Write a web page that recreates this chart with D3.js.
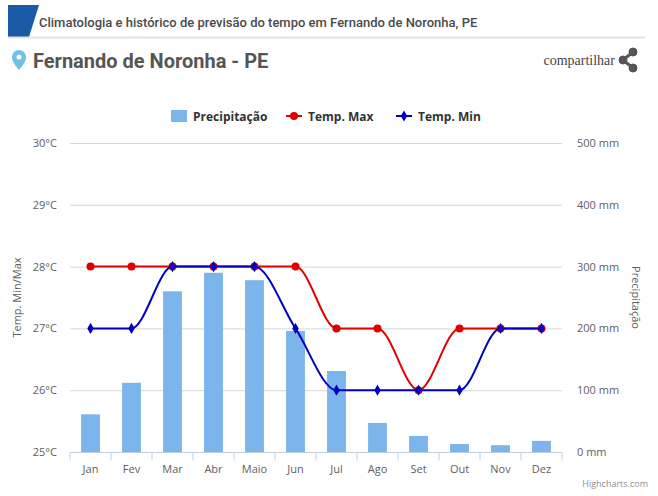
<!DOCTYPE html>
<html><head><meta charset="utf-8">
<script src="https://cdn.jsdelivr.net/npm/d3@7"></script>
<style>
body{margin:0;background:#fff;font-family:Roboto,"Open Sans",sans-serif;}
svg text{font-family:"Open Sans","DejaVu Sans",sans-serif;}
</style></head><body>
<svg id="c" width="658" height="496"></svg>
<script>
var months = ["Jan","Fev","Mar","Abr","Maio","Jun","Jul","Ago","Set","Out","Nov","Dez"];
var precip = [61, 112, 260, 290, 278, 196, 131, 47, 26, 13, 11, 18];
var tmax = [28, 28, 28, 28, 28, 28, 27, 27, 26, 27, 27, 27];
var tmin = [27, 27, 28, 28, 28, 27, 26, 26, 26, 26, 27, 27];
var tempTicks = [25, 26, 27, 28, 29, 30];
var precTicks = [0, 100, 200, 300, 400, 500];

var svg = d3.select("#c");
var pLeft = 70, pRight = 562, pTop = 143, pBottom = 452;

// header
svg.append("path").attr("d", "M8,5 L39,5 L29,37 L8,37 Z").attr("fill", "#1a5aa6");
svg.append("line").attr("x1", 8).attr("x2", 645).attr("y1", 37.5).attr("y2", 37.5).attr("stroke", "#e2e2e2").attr("stroke-width", 2);
svg.append("text").attr("x", 39).attr("y", 27).attr("font-size", 13).attr("fill", "#4a4a4a")
  .style("font-family", "Roboto").attr("font-weight", 500)
  .text("Climatologia e histórico de previsão do tempo em Fernando de Noronha, PE");
svg.append("path").attr("d", "M19,70 C13,63 12,60 12,57 A7,7 0 1 1 26,57 C26,60 25,63 19,70 Z").attr("fill", "#6fc1e6");
svg.append("circle").attr("cx", 19).attr("cy", 57).attr("r", 2.5).attr("fill", "#fff");
svg.append("text").attr("x", 33).attr("y", 68).attr("font-size", 20).attr("font-weight", 700).attr("fill", "#555")
  .style("font-family", "Roboto").text("Fernando de Noronha - PE");
svg.append("text").attr("x", 615).attr("y", 65).attr("font-size", 14).attr("text-anchor", "end").attr("fill", "#444")
  .style("font-family", "Liberation Serif").text("compartilhar");
var sh = svg.append("g").attr("fill", "#555").attr("stroke", "#555");
sh.append("line").attr("x1", 633).attr("y1", 52).attr("x2", 623).attr("y2", 60).attr("stroke-width", 3);
sh.append("line").attr("x1", 633).attr("y1", 68).attr("x2", 623).attr("y2", 60).attr("stroke-width", 3);
[[633, 52], [623, 60], [633, 68]].forEach(function (p) { sh.append("circle").attr("cx", p[0]).attr("cy", p[1]).attr("r", 4); });

var x = d3.scaleBand().domain(months).range([pLeft, pRight]);
var yT = d3.scaleLinear().domain([25, 30]).range([pBottom, pTop]);
var yP = d3.scaleLinear().domain([0, 500]).range([pBottom, pTop]);

// grid
svg.selectAll(".grid").data(tempTicks).enter().append("line")
  .attr("x1", pLeft).attr("x2", pRight).attr("y1", function (d) { return yT(d) + 0.5; }).attr("y2", function (d) { return yT(d) + 0.5; })
  .attr("stroke", "#d8d8d8");

// bars
svg.selectAll(".bar").data(precip).enter().append("rect")
  .attr("x", function (d, i) { return x(months[i]) + x.bandwidth() * 0.27; })
  .attr("width", x.bandwidth() * 0.46)
  .attr("y", function (d) { return yP(d); })
  .attr("height", function (d) { return pBottom - yP(d); })
  .attr("fill", "#7cb5ec");

// axes
var xa = svg.append("g").attr("transform", "translate(0," + (pBottom + 0.5) + ")");
xa.append("line").attr("x1", pLeft).attr("x2", pRight).attr("stroke", "#c0d0e0");
months.forEach(function (m, i) {
  xa.append("line").attr("x1", x(m)).attr("x2", x(m)).attr("y2", 8).attr("stroke", "#c0d0e0");
  xa.append("text").attr("x", x(m) + x.bandwidth() / 2).attr("y", 20).attr("text-anchor", "middle")
    .attr("font-size", 11).attr("fill", "#606060").text(m);
});
xa.append("line").attr("x1", pRight).attr("x2", pRight).attr("y2", 8).attr("stroke", "#c0d0e0");

svg.selectAll(".tl").data(tempTicks).enter().append("text")
  .attr("x", 57).attr("y", function (d) { return yT(d) + 4; }).attr("text-anchor", "end")
  .attr("font-size", 11).attr("fill", "#606060").text(function (d) { return d + "°C"; });
svg.selectAll(".pl").data(precTicks).enter().append("text")
  .attr("x", 577).attr("y", function (d) { return yP(d) + 4; })
  .attr("font-size", 11).attr("fill", "#606060").text(function (d) { return d + " mm"; });

svg.append("text").attr("transform", "translate(21," + ((pTop + pBottom) / 2) + ") rotate(-90)")
  .attr("text-anchor", "middle").attr("font-size", 11).attr("fill", "#606060").text("Temp. Min/Max");
svg.append("text").attr("transform", "translate(632," + ((pTop + pBottom) / 2) + ") rotate(90)")
  .attr("text-anchor", "middle").attr("font-size", 11).attr("fill", "#606060").text("Precipitação");

// lines
var cx = function (i) { return x(months[i]) + x.bandwidth() / 2; };
function drawLine(vals, color, diamond) {
  var line = d3.line().x(function (d, i) { return cx(i); }).y(function (d) { return yT(d); }).curve(d3.curveMonotoneX);
  svg.append("path").attr("d", line(vals)).attr("fill", "none").attr("stroke", color).attr("stroke-width", 2);
  vals.forEach(function (v, i) {
    if (diamond) {
      svg.append("path").attr("d", d3.symbol(d3.symbolDiamond, 36)()).attr("transform", "translate(" + cx(i) + "," + yT(v) + ")").attr("fill", color);
    } else {
      svg.append("circle").attr("cx", cx(i)).attr("cy", yT(v)).attr("r", 4).attr("fill", color);
    }
  });
}
drawLine(tmax, "#e00000", false);
drawLine(tmin, "#0000c0", true);

// legend
var lg = svg.append("g").attr("font-size", 12).attr("font-weight", 700).attr("fill", "#333");
lg.append("rect").attr("x", 171).attr("y", 110).attr("width", 16).attr("height", 12).attr("fill", "#7cb5ec");
lg.append("text").attr("x", 193).attr("y", 121).text("Precipitação");
lg.append("line").attr("x1", 286).attr("x2", 302).attr("y1", 116).attr("y2", 116).attr("stroke", "#e00000").attr("stroke-width", 2);
lg.append("circle").attr("cx", 294).attr("cy", 116).attr("r", 4).attr("fill", "#e00000");
lg.append("text").attr("x", 308).attr("y", 121).text("Temp. Max");
lg.append("line").attr("x1", 396).attr("x2", 412).attr("y1", 116).attr("y2", 116).attr("stroke", "#0000c0").attr("stroke-width", 2);
lg.append("path").attr("d", d3.symbol(d3.symbolDiamond, 36)()).attr("transform", "translate(404,116)").attr("fill", "#0000c0");
lg.append("text").attr("x", 418).attr("y", 121).text("Temp. Min");

svg.append("text").attr("x", 648).attr("y", 487).attr("text-anchor", "end").attr("font-size", 9).attr("fill", "#909090").text("Highcharts.com");
</script></body></html>
